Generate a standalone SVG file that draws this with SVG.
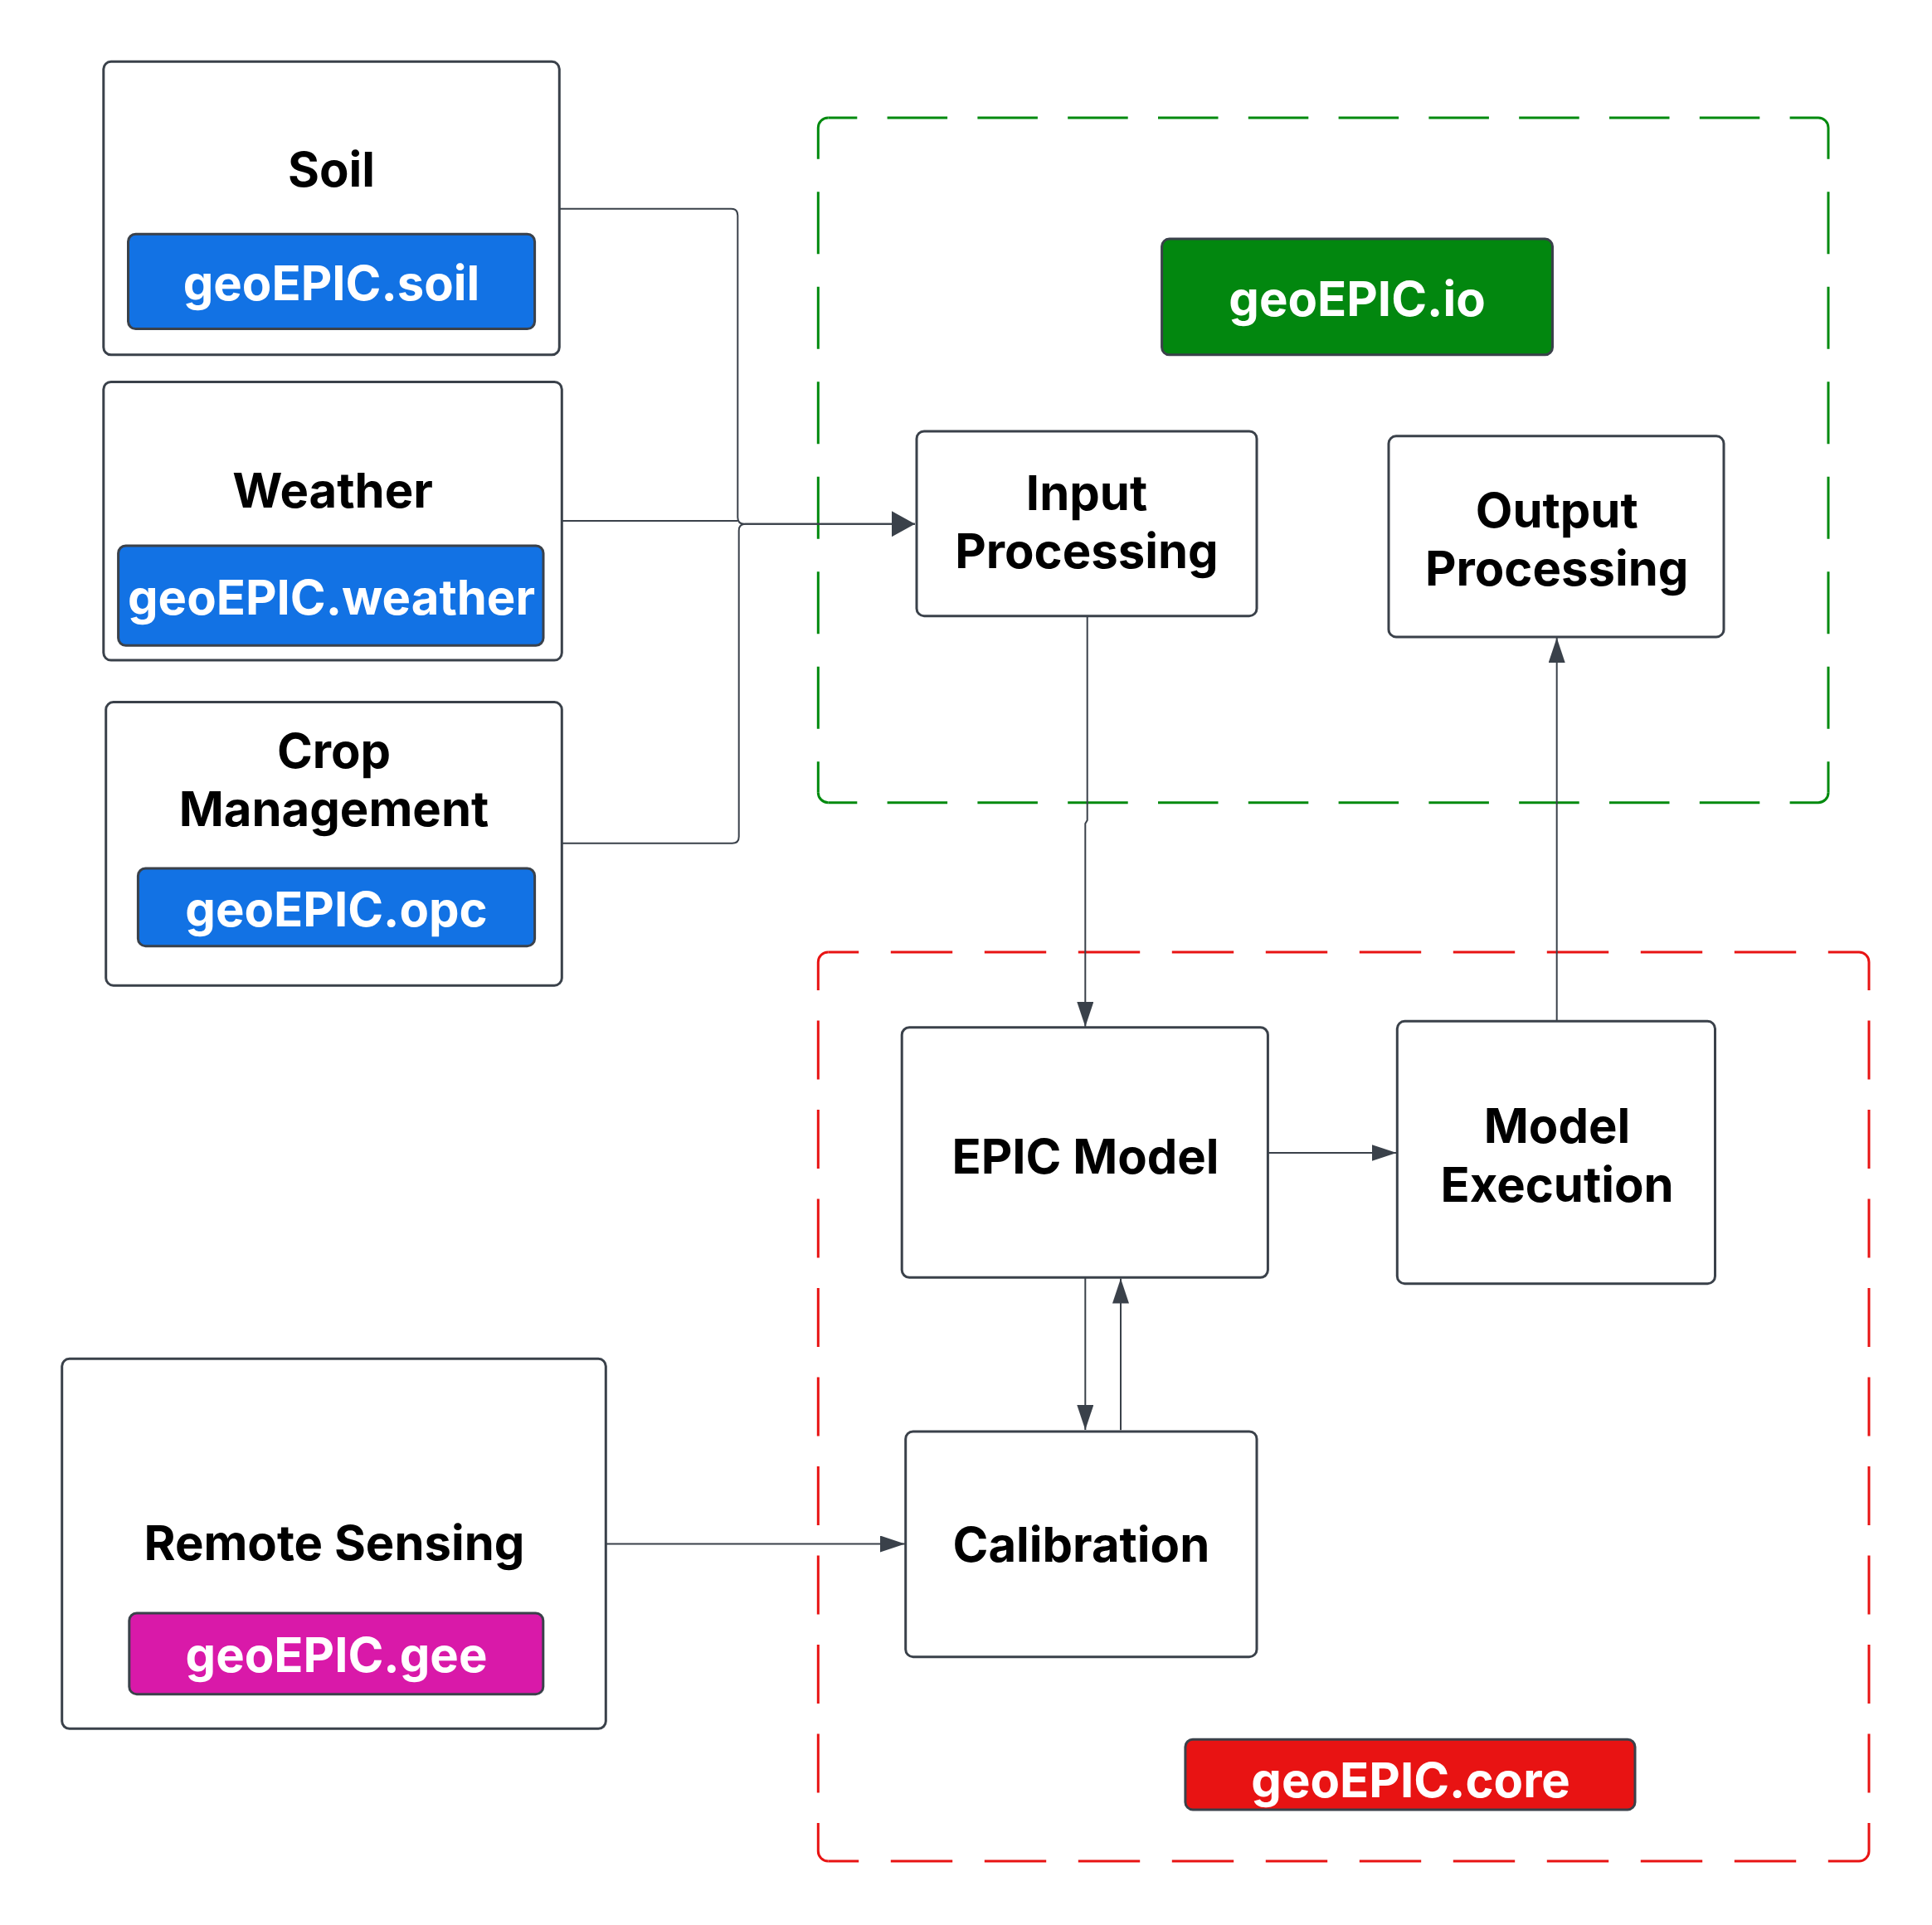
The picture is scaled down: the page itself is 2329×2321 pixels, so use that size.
<svg xmlns="http://www.w3.org/2000/svg" width="2329" height="2321" viewBox="0 0 2329 2321">
<style>
.node{fill:#ffffff;stroke:#3a414a;stroke-width:3}
.tag{stroke:#3a414a;stroke-width:3}
.lbl{font-family:Inter,"Liberation Sans",sans-serif;font-weight:700;font-size:58px;fill:#000000;text-anchor:middle}
.tl{font-family:Inter,"Liberation Sans",sans-serif;font-weight:700;font-size:58px;fill:#ffffff;text-anchor:middle}
.conn{fill:none;stroke:#3a414a;stroke-width:2}
.g{fill:none;stroke:#008a0e;stroke-width:3}
.r{fill:none;stroke:#e81313;stroke-width:3}
.gh{stroke-dasharray:72.5 36.3;stroke-dashoffset:37.5}
.gv{stroke-dasharray:75 39.5;stroke-dashoffset:37.3}
.rh{stroke-dasharray:74.4 38.6;stroke-dashoffset:37.5}
.rv{stroke-dasharray:71 36.5;stroke-dashoffset:37}
</style>
<defs>
<marker id="arr" markerUnits="userSpaceOnUse" markerWidth="30" markerHeight="20" refX="30" refY="10" orient="auto">
<path d="M0,0 L30,10 L0,20 Z" fill="#3a414a"/>
</marker>
<marker id="arrB" markerUnits="userSpaceOnUse" markerWidth="28" markerHeight="31" refX="28" refY="15.5" orient="auto">
<path d="M0,0 L28,15.5 L0,31 Z" fill="#3a414a"/>
</marker>
</defs>
<rect width="2329" height="2321" fill="#ffffff"/>

<g id="group-io">
<path class="g gh" d="M998.3 142 H2192"/>
<path class="g gh" d="M998.3 967.7 H2192"/>
<path class="g gv" d="M986.3 154 V955.7"/>
<path class="g gv" d="M2204 154 V955.7"/>
<path class="g" d="M986.3 154 A12 12 0 0 1 998.3 142 M2192 142 A12 12 0 0 1 2204 154 M2204 955.7 A12 12 0 0 1 2192 967.7 M998.3 967.7 A12 12 0 0 1 986.3 955.7"/>
</g>
<g id="group-core">
<path class="r rh" d="M998.3 1148 H2241"/>
<path class="r rh" d="M998.3 2244 H2241"/>
<path class="r rv" d="M986.3 1160 V2232"/>
<path class="r rv" d="M2253 1160 V2232"/>
<path class="r" d="M986.3 1160 A12 12 0 0 1 998.3 1148 M2241 1148 A12 12 0 0 1 2253 1160 M2253 2232 A12 12 0 0 1 2241 2244 M998.3 2244 A12 12 0 0 1 986.3 2232"/>
</g>

<g id="connectors">
<path class="conn" d="M674.3 251.7 H881.3 Q889.3 251.7 889.3 259.7 V623.7 Q889.3 631.7 897.3 631.7 H1103" stroke-width="2.5"/>
<path class="conn" d="M677.3 628 H889.3" stroke-width="2.5"/>
<path class="conn" d="M677.3 1016.7 H882.7 Q890.7 1016.7 890.7 1008.7 V639.7 Q890.7 631.7 898.7 631.7 H1103" stroke-width="2.5" marker-end="url(#arrB)"/>
<path class="conn" d="M1310.7 742.7 V989 L1308.3 993 V1238" marker-end="url(#arr)"/>
<path class="conn" d="M1308.3 1540.7 V1724" marker-end="url(#arr)"/>
<path class="conn" d="M1351 1724.3 V1541.5" marker-end="url(#arr)"/>
<path class="conn" d="M1528.4 1390 H1683.5" marker-end="url(#arr)"/>
<path class="conn" d="M1876.7 1231.3 V769" marker-end="url(#arr)"/>
<path class="conn" d="M730.8 1861.5 H1091" marker-end="url(#arr)"/>
</g>

<g id="soil">
<rect x="124.8" y="74.3" width="549.5" height="353.5" rx="9" class="node"/>
<text x="399.5" y="225" class="lbl">Soil</text>
<rect x="154.5" y="282.2" width="490.1" height="114.4" rx="9" class="tag" fill="#1272e4"/>
<text x="399.5" y="362" class="tl">geoEPIC.soil</text>
</g>

<g id="weather">
<rect x="124.8" y="460.4" width="552.5" height="335.7" rx="9" class="node"/>
<text x="401" y="612" class="lbl">Weather</text>
<rect x="142.6" y="658" width="512.4" height="120.3" rx="9" class="tag" fill="#1272e4"/>
<text x="399.5" y="741" class="tl">geoEPIC.weather</text>
</g>

<g id="crop">
<rect x="127.7" y="846.6" width="549.6" height="341.6" rx="9" class="node"/>
<text x="402.5" y="926" class="lbl">Crop</text>
<text x="402.5" y="996" class="lbl">Management</text>
<rect x="166.4" y="1047" width="478.2" height="93.7" rx="9" class="tag" fill="#1272e4"/>
<text x="405.5" y="1117" class="tl">geoEPIC.opc</text>
</g>

<g id="remote">
<rect x="74.7" y="1638.3" width="655.6" height="446" rx="9" class="node"/>
<text x="403" y="1881" class="lbl">Remote Sensing</text>
<rect x="155.8" y="1945" width="499" height="97.7" rx="9" class="tag" fill="#d919a9"/>
<text x="405.5" y="2016" class="tl">geoEPIC.gee</text>
</g>

<g id="io-tag">
<rect x="1400.6" y="288.1" width="470.9" height="139.7" rx="9" class="tag" fill="#02870f"/>
<text x="1636" y="381" class="tl">geoEPIC.io</text>
</g>

<g id="input">
<rect x="1105" y="519.9" width="410" height="222.8" rx="9" class="node"/>
<text x="1310" y="615" class="lbl">Input</text>
<text x="1310" y="685" class="lbl">Processing</text>
</g>

<g id="output">
<rect x="1674" y="525.8" width="404" height="242.1" rx="9" class="node"/>
<text x="1876.7" y="636" class="lbl">Output</text>
<text x="1876.7" y="706" class="lbl">Processing</text>
</g>

<g id="epic">
<rect x="1087.2" y="1238.7" width="441.2" height="301.6" rx="9" class="node"/>
<text x="1308.5" y="1415" class="lbl">EPIC Model</text>
</g>

<g id="exec">
<rect x="1684.3" y="1231.3" width="383.2" height="316.4" rx="9" class="node"/>
<text x="1877" y="1378" class="lbl">Model</text>
<text x="1877" y="1449" class="lbl">Execution</text>
</g>

<g id="calib">
<rect x="1091.7" y="1725.9" width="423.3" height="271.8" rx="9" class="node"/>
<text x="1303.4" y="1883" class="lbl">Calibration</text>
</g>

<g id="core-tag">
<rect x="1428.9" y="2097.2" width="542.1" height="84.7" rx="9" class="tag" fill="#e81313"/>
<text x="1700.6" y="2167" class="tl">geoEPIC.core</text>
</g>
</svg>
